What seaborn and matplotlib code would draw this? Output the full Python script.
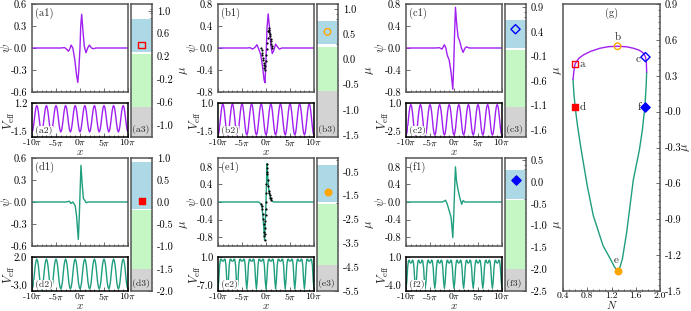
import numpy as np
import matplotlib
matplotlib.use('Agg')
import matplotlib.pyplot as plt
from matplotlib.ticker import MultipleLocator, FixedLocator, FormatStrFormatter
import seaborn as sns

sns.set_style('ticks')
plt.rcParams['font.family'] = 'serif'
plt.rcParams['font.serif'] = ['cmr10']
plt.rcParams['mathtext.fontset'] = 'cm'
plt.rcParams['axes.unicode_minus'] = False
plt.rcParams['axes.formatter.use_mathtext'] = True

W, H = 691, 311
PURPLE = '#a020f0'
GREEN = '#1f9e7e'
FRAME = '#555555'
LBLUE = '#add8e6'
LGREEN = '#c4f7c4'
LGRAY = '#d3d3d3'

# ---------------- psi profiles (x in units of pi) ----------------
a1_x = [-10, -4, -3.2, -2.8, -2.4, -2.1, -1.85, -1.5, -1.1, -0.7, -0.45, -0.25, 0, 0.15, 0.35, 0.6, 0.9, 1.25, 1.6, 1.95, 2.4, 2.8, 3.3, 4, 10]
a1_y = [0, 0, 0.005, -0.015, -0.045, -0.01, 0.04, 0.0, -0.15, -0.38, -0.47, -0.3, 0.0, 0.3, 0.46, 0.25, 0.02, -0.065, 0.0, 0.04, 0.0, -0.01, 0.0, 0, 0]
b1_x = [-10, -4, -3.3, -2.8, -2.3, -1.9, -1.5, -1.1, -0.7, -0.4, -0.2, 0.0, 0.2, 0.45, 0.7, 1.0, 1.3, 1.6, 2.0, 2.4, 2.8, 3.3, 4, 10]
b1_y = [0, 0, 0.005, -0.02, 0.01, 0.06, -0.02, -0.12, -0.35, -0.58, -0.63, -0.2, 0.35, 0.62, 0.4, 0.05, -0.1, -0.05, 0.07, 0.02, -0.02, 0.0, 0, 0]
c1_x = [-10, -4, -3, -2.5, -2.0, -1.7, -1.4, -1.0, -0.6, -0.25, -0.05, 0.1, 0.3, 0.55, 0.85, 1.2, 1.55, 1.9, 2.3, 2.6, 3.2, 4, 10]
c1_y = [0, 0, 0.005, -0.02, 0.06, 0.0, -0.13, -0.22, -0.45, -0.75, -0.3, 0.2, 0.74, 0.45, 0.2, 0.12, 0.0, -0.08, 0.0, 0.02, 0.0, 0, 0]
d1_x = [-10, -3, -2.2, -1.9, -1.5, -1.0, -0.7, -0.35, -0.15, 0.0, 0.2, 0.45, 0.7, 1.0, 1.3, 1.7, 10]
d1_y = [0, 0, 0.01, -0.02, 0.0, -0.05, -0.2, -0.51, -0.2, 0.1, 0.5, 0.25, 0.05, 0.02, -0.01, 0.0, 0]
e1_x = [-10, -2, -1.5, -1.0, -0.8, -0.55, -0.3, -0.1, 0.0, 0.1, 0.2, 0.4, 0.6, 0.9, 1.2, 1.6, 10]
e1_y = [0, 0, 0.0, -0.05, -0.15, -0.45, -0.87, -0.3, 0.0, 0.4, 0.87, 0.5, 0.25, 0.1, 0.03, 0.0, 0]
f1_x = [-10, -3, -2.4, -1.75, -1.4, -1.0, -0.6, -0.25, -0.05, 0.1, 0.3, 0.5, 0.8, 1.2, 1.6, 1.9, 2.3, 10]
f1_y = [0, 0, 0.0, 0.04, -0.05, -0.2, -0.35, -0.81, -0.3, 0.2, 0.8, 0.5, 0.3, 0.1, -0.05, 0.03, 0.0, 0]

# black dots (numerical check) in (b1) and (e1)
b1_dot_x = [-1.0, -0.92, -0.83, -0.75, -0.67, -0.58, -0.5, -0.42, -0.33, -0.25,
            -0.15, -0.05, 0.05, 0.15, 0.25, 0.35, 0.45,
            0.55, 0.63, 0.72, 0.8, 0.88, 0.97, 1.05, 1.13, 1.22, 1.3]
b1_dot_y = [0.0, -0.04, -0.09, -0.13, -0.18, -0.22, -0.27, -0.31, -0.36, -0.40,
            -0.33, -0.23, -0.12, -0.02, 0.09, 0.19, 0.30,
            0.37, 0.33, 0.29, 0.25, 0.21, 0.16, 0.12, 0.08, 0.04, 0.0]
e1_dot_x = [-1.0, -0.9, -0.8, -0.7, -0.6, -0.5, -0.4, -0.35, -0.3, -0.25, -0.2, -0.15, -0.1, -0.05, 0.0,
            0.05, 0.1, 0.15, 0.2, 0.25, 0.3, 0.4, 0.5, 0.6, 0.7, 0.8, 0.9, 1.0, 1.1]
e1_dot_y = [-0.05, -0.10, -0.15, -0.27, -0.39, -0.51, -0.69, -0.78, -0.87, -0.72, -0.58, -0.44, -0.30, -0.15, 0.0,
            0.20, 0.40, 0.63, 0.87, 0.78, 0.68, 0.50, 0.37, 0.25, 0.20, 0.15, 0.10, 0.08, 0.05]

# ---------------- V_eff: one lattice cell (samples every pi/6 from x=-10pi) ----------------
a2_cell = [-1.10, -0.96, -0.58, -0.05, 0.48, 0.86, 1.00, 0.86, 0.48, -0.05, -0.58, -0.96]
b2_cell = [-1.35, -1.20, -0.78, -0.20, 0.38, 0.80, 0.95, 0.80, 0.38, -0.20, -0.78, -1.20]
c2_cell = [-2.30, -2.10, -1.55, -0.70, 0.10, 0.65, 0.85, 0.65, 0.10, -0.70, -1.55, -2.10]
d2_cell = [-2.70, -2.40, -1.70, -0.50, 0.70, 1.40, 1.70, 1.40, 0.70, -0.50, -1.70, -2.40]
e2_cell = [-6.50, -4.50, -1.00, 0.40, 0.50, 0.10, 0.00, 0.10, 0.50, 0.40, -1.00, -4.50]
f2_cell = [-3.60, -2.60, -0.60, 0.40, 0.55, 0.20, 0.10, 0.20, 0.55, 0.40, -0.60, -2.60]

# ---------------- axis ranges / ticks ----------------
psi_lims = {'a': (-0.6, 0.6), 'b': (-0.8, 0.8), 'c': (-0.8, 0.8), 'd': (-0.6, 0.6), 'e': (-1.0, 1.0), 'f': (-1.0, 1.0)}
psi_step = {'a': 0.3, 'b': 0.4, 'c': 0.4, 'd': 0.3, 'e': 0.4, 'f': 0.4}
v_lims = {'a': (-1.5, 1.2), 'b': (-1.5, 1.0), 'c': (-2.5, 1.0), 'd': (-3.0, 2.0), 'e': (-7.0, 1.0), 'f': (-4.0, 1.0)}

# band strips
strip_lims = {'a': (-1.21, 1.12), 'b': (-1.54, 1.10), 'c': (-1.74, 0.97), 'd': (-2.0, 1.0), 'e': (-5.5, 0.08), 'f': (-2.5, 0.55)}
strip_ticks = {'a': [-1.0, -0.6, -0.2, 0.2, 0.6, 1.0], 'b': [-1.5, -1.0, -0.5, 0.0, 0.5, 1.0],
               'c': [-1.6, -1.1, -0.6, -0.1, 0.4, 0.9], 'd': [-2.0, -1.5, -1.0, -0.5, 0.0, 0.5, 1.0],
               'e': [-5.5, -4.5, -3.5, -2.5, -1.5, -0.5], 'f': [-2.5, -2.0, -1.5, -1.0, -0.5, 0.0, 0.5]}
blue_band = {'a': (0.28, 0.86), 'b': (0.31, 0.76), 'c': (0.08, 0.64), 'd': (-0.15, 0.90), 'e': (-1.78, -0.2), 'f': (-0.40, 0.27)}
green_band = {'a': (-0.68, 0.25), 'b': (-0.63, 0.24), 'c': (-1.13, 0.03), 'd': (-1.50, -0.17), 'e': (-4.4, -1.84), 'f': (-2.0, -0.42)}

# ---------------- panel (g): existence curve mu(N) ----------------
g_purple_N = [0.565, 0.58, 0.60, 0.66, 0.74, 0.86, 1.01, 1.15, 1.30, 1.45, 1.56, 1.65, 1.70, 1.74, 1.76, 1.775, 1.78]
g_purple_mu = [0.27, 0.34, 0.40, 0.445, 0.475, 0.505, 0.53, 0.543, 0.547, 0.542, 0.53, 0.515, 0.50, 0.48, 0.456, 0.41, 0.33]
g_green_N = [1.78, 1.77, 1.75, 1.71, 1.66, 1.56, 1.45, 1.38, 1.34, 1.30, 1.25, 1.20, 1.06, 0.90, 0.80, 0.70, 0.64, 0.60, 0.58, 0.565]
g_green_mu = [0.33, 0.20, 0.04, -0.15, -0.32, -0.57, -1.01, -1.23, -1.30, -1.33, -1.30, -1.25, -1.12, -0.87, -0.62, -0.32, -0.12, 0.04, 0.15, 0.27]

pt_names = ['a', 'b', 'c', 'd', 'e', 'f']
pt_N = [0.60, 1.30, 1.76, 0.60, 1.30, 1.75]
pt_mu = [0.40, 0.547, 0.456, 0.04, -1.33, 0.04]
pt_marker = ['s', 'o', 'D', 's', 'o', 'D']
pt_color = ['red', 'orange', 'blue', 'red', 'orange', 'blue']
pt_filled = [False, False, False, True, True, True]
pt_text_N = [0.72, 1.30, 1.64, 0.72, 1.28, 1.66]
pt_text_mu = [0.40, 0.62, 0.44, 0.04, -1.24, 0.04]

psi_data = {'a': (a1_x, a1_y), 'b': (b1_x, b1_y), 'c': (c1_x, c1_y),
            'd': (d1_x, d1_y), 'e': (e1_x, e1_y), 'f': (f1_x, f1_y)}
v_cells = {'a': a2_cell, 'b': b2_cell, 'c': c2_cell, 'd': d2_cell, 'e': e2_cell, 'f': f2_cell}
dots = {'b': (b1_dot_x, b1_dot_y), 'e': (e1_dot_x, e1_dot_y)}
origins = {'a': (32, 4), 'b': (218, 4), 'c': (406, 4), 'd': (32, 158), 'e': (218, 158), 'f': (406, 158)}

FS = 7.5


def rect(x0, y0, w, h):
    return [x0 / W, 1 - (y0 + h) / H, w / W, h / H]


def frame(ax):
    for s in ax.spines.values():
        s.set_visible(True)
        s.set_color(FRAME)
        s.set_linewidth(1.1)
    ax.tick_params(which='both', direction='in', colors=FRAME, labelcolor='black', labelsize=FS, width=0.6)
    ax.tick_params(which='major', length=3)
    ax.tick_params(which='minor', length=1.5)


fig = plt.figure(figsize=(W / 100, H / 100), dpi=100)
x_pi = np.arange(121) * np.pi / 6 - 10 * np.pi
xt = [-10 * np.pi, -5 * np.pi, 0, 5 * np.pi, 10 * np.pi]
xtl = [r'-10$\pi$', r'-5$\pi$', r'0$\pi$', r'5$\pi$', r'10$\pi$']

for i, k in enumerate('abcdef'):
    x0, y0 = origins[k]
    col = PURPLE if k in 'abc' else GREEN
    # psi panel
    ax1 = fig.add_axes(rect(x0, y0, 96, 88))
    px, py = psi_data[k]
    sns.lineplot(x=np.array(px) * np.pi, y=py, ax=ax1, color=col, lw=1.0, sort=False, estimator=None)
    if k in dots:
        dx, dy = dots[k]
        sns.scatterplot(x=np.array(dx) * np.pi, y=dy, ax=ax1, color='black', s=2.5, linewidth=0, zorder=3)
    lo, hi = psi_lims[k]
    ax1.set_xlim(-10 * np.pi, 10 * np.pi)
    ax1.set_ylim(lo, hi)
    ax1.yaxis.set_major_locator(MultipleLocator(psi_step[k]))
    ax1.yaxis.set_major_formatter(FormatStrFormatter('%.1f'))
    ax1.xaxis.set_major_locator(MultipleLocator(5 * np.pi))
    ax1.xaxis.set_minor_locator(MultipleLocator(np.pi))
    frame(ax1)
    ax1.tick_params(labelbottom=False)
    ax1.set_ylabel(r'$\psi$', fontsize=9)
    ax1.yaxis.set_label_coords(-17 / 96, 0.5)
    ax1.text(0.03, 0.96, f'({k}1)', transform=ax1.transAxes, fontsize=FS, va='top', ha='left')

    # V_eff panel
    ax2 = fig.add_axes(rect(x0, y0 + 99, 96, 34))
    vy = np.append(np.tile(v_cells[k], 10), v_cells[k][0])
    sns.lineplot(x=x_pi, y=vy, ax=ax2, color=col, lw=1.0, sort=False, estimator=None)
    vlo, vhi = v_lims[k]
    ax2.set_xlim(-10 * np.pi, 10 * np.pi)
    ax2.set_ylim(vlo, vhi)
    ax2.set_yticks([vlo, vhi])
    ax2.yaxis.set_major_formatter(FormatStrFormatter('%.1f'))
    ax2.set_xticks(xt)
    ax2.set_xticklabels(xtl)
    ax2.xaxis.set_minor_locator(MultipleLocator(np.pi))
    frame(ax2)
    ax2.spines[:].set_color('black')
    ax2.tick_params(axis='x', pad=0.5, labelsize=7)
    ax2.get_yticklabels()[0].set_va('bottom')
    ax2.set_ylabel(r'$V_{\rm eff}$', fontsize=9)
    ax2.yaxis.set_label_coords(-15 / 96, 0.5)
    ax2.set_xlabel(r'$x$', fontsize=8)
    ax2.xaxis.set_label_coords(0.5, -0.31)
    ax2.text(0.03, 0.06, f'({k}2)', transform=ax2.transAxes, fontsize=FS - 0.5, va='bottom', ha='left',
             bbox=dict(facecolor='white', edgecolor='none', pad=0.3))

    # band strip
    ax3 = fig.add_axes(rect(x0 + 99, y0, 21, 133))
    slo, shi = strip_lims[k]
    ax3.set_xlim(0, 1)
    ax3.set_ylim(slo, shi)
    ax3.axhspan(*blue_band[k], color=LBLUE, lw=0)
    ax3.axhspan(*green_band[k], color=LGREEN, lw=0)
    ax3.axhspan(slo, green_band[k][0], color=LGRAY, lw=0)
    sns.scatterplot(x=[0.5], y=[pt_mu[i]], ax=ax3, marker=pt_marker[i], s=22,
                    color=pt_color[i] if pt_filled[i] else 'none',
                    edgecolor=pt_color[i], linewidth=1.0, zorder=3)
    ax3.set_xticks([])
    ax3.yaxis.tick_right()
    ax3.yaxis.set_major_locator(FixedLocator(strip_ticks[k]))
    step = strip_ticks[k][1] - strip_ticks[k][0]
    ax3.yaxis.set_minor_locator(MultipleLocator(step / 5))
    ax3.yaxis.set_major_formatter(FormatStrFormatter('%.1f'))
    frame(ax3)
    ax3.yaxis.set_label_position('right')
    ax3.set_ylabel(r'$\mu$', fontsize=9, rotation=90)
    ax3.yaxis.set_label_coords(47 / 21, 0.5)
    ax3.text(0.04, 0.02, f'({k}3)', transform=ax3.transAxes, fontsize=FS - 0.5, va='bottom', ha='left')

# ---------------- panel (g) ----------------
axg = fig.add_axes(rect(563, 4, 97, 287))
sns.lineplot(x=g_green_N, y=g_green_mu, ax=axg, color=GREEN, lw=1.0, sort=False, estimator=None)
sns.lineplot(x=g_purple_N, y=g_purple_mu, ax=axg, color=PURPLE, lw=1.0, sort=False, estimator=None)
for i in range(6):
    sns.scatterplot(x=[pt_N[i]], y=[pt_mu[i]], ax=axg, marker=pt_marker[i], s=22,
                    color=pt_color[i] if pt_filled[i] else 'none',
                    edgecolor=pt_color[i], linewidth=1.0, zorder=3)
    axg.text(pt_text_N[i], pt_text_mu[i], pt_names[i], fontsize=8, ha='center', va='center')
axg.text(1.2, 0.82, '(g)', fontsize=FS, ha='center', va='center')
axg.set_xlim(0.4, 2.0)
axg.set_ylim(-1.5, 0.9)
axg.xaxis.set_major_locator(MultipleLocator(0.4))
axg.xaxis.set_minor_locator(MultipleLocator(0.1))
axg.xaxis.set_major_formatter(FormatStrFormatter('%.1f'))
axg.yaxis.tick_right()
axg.yaxis.set_major_locator(MultipleLocator(0.3))
axg.yaxis.set_minor_locator(MultipleLocator(0.05))
axg.yaxis.set_major_formatter(FormatStrFormatter('%.1f'))
frame(axg)
axg.tick_params(axis='x', pad=0.5, labelsize=7)
axg.set_xlabel(r'$N$', fontsize=8)
axg.xaxis.set_label_coords(0.5, -0.029)
axg.yaxis.set_label_position('right')
axg.set_ylabel(r'$\mu$', fontsize=9)
axg.yaxis.set_label_coords(1.21, 0.5)

fig.savefig('out.png', dpi=100)
